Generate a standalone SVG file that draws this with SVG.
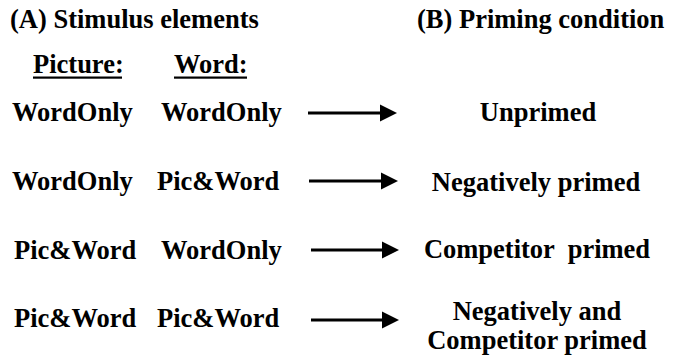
<svg xmlns="http://www.w3.org/2000/svg" width="685" height="360" viewBox="0 0 685 360">
<style>
.c{text-anchor:middle}
.ln{stroke:#000;stroke-width:3;fill:none}
</style>
<rect width="685" height="360" fill="#fff"/>
<g font-family="'Liberation Serif', serif" font-weight="bold" font-size="26.5" fill="#000">
<g id="headA"><text x="10" y="28">(A) Stimulus elements</text></g>
<g id="headB"><text x="417" y="28">(B) Priming condition</text></g>
<g id="colPicture"><text x="33" y="73">Picture:</text><rect x="33" y="76.5" width="89" height="2.2" fill="#000"/></g>
<g id="colWord"><text x="174" y="73">Word:</text><rect x="174" y="76.5" width="73" height="2.2" fill="#000"/></g>
<g id="row1"><text x="12" y="121">WordOnly</text><text x="161" y="121">WordOnly</text></g>
<g id="row2"><text x="12" y="190">WordOnly</text><text x="157" y="190">Pic&amp;Word</text></g>
<g id="row3"><text x="14" y="259">Pic&amp;Word</text><text x="161" y="259">WordOnly</text></g>
<g id="row4"><text x="14" y="327">Pic&amp;Word</text><text x="157" y="327">Pic&amp;Word</text></g>
<g id="cond1"><text class="c" x="538" y="121">Unprimed</text></g>
<g id="cond2"><text class="c" x="536" y="191">Negatively primed</text></g>
<g id="cond3"><text class="c" x="537" y="258" xml:space="preserve">Competitor  primed</text></g>
<g id="cond4"><text class="c" x="537" y="320">Negatively and</text><text class="c" x="537" y="349">Competitor primed</text></g>
</g>
<g id="connectors" fill="#000">
<line class="ln" x1="308" y1="113" x2="381" y2="113"/><path d="M380,104.5 L397,113 L380,121.5 Z"/>
<line class="ln" x1="309" y1="181" x2="382" y2="181"/><path d="M381,172.5 L398,181 L381,189.5 Z"/>
<line class="ln" x1="311" y1="250" x2="383" y2="250"/><path d="M382,241.5 L399,250 L382,258.5 Z"/>
<line class="ln" x1="311" y1="320" x2="383" y2="320"/><path d="M382,311.5 L399,320 L382,328.5 Z"/>
</g>
</svg>
